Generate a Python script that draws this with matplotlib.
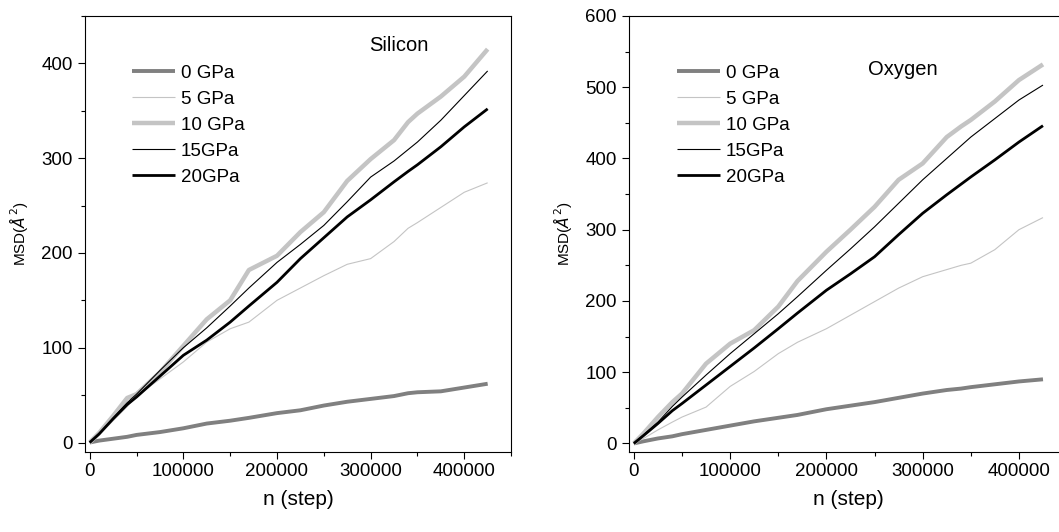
import numpy as np
import matplotlib
matplotlib.use('Agg')
import matplotlib.pyplot as plt
from matplotlib.ticker import MultipleLocator

plt.rcParams['font.family'] = ['Liberation Sans', 'DejaVu Sans']

steps = [0, 10000, 25000, 40000, 50000, 75000, 100000, 125000, 150000, 170000,
         200000, 225000, 250000, 275000, 300000, 325000, 340000, 350000, 375000, 400000, 425000]

# Silicon MSD (A^2)
si_0 = [0, 2, 4, 6, 8, 11, 15, 20, 23, 26, 31, 34, 39, 43, 46, 49, 52, 53, 54, 58, 62]
si_5 = [0, 8, 23, 38, 49, 67, 85, 106, 120, 127, 150, 163, 176, 188, 194, 212, 226, 232, 248, 264, 274]
si_10 = [0, 10, 28, 47, 51, 74, 102, 130, 150, 182, 197, 222, 243, 276, 299, 319, 338, 347, 365, 386, 415]
si_15 = [0, 9, 26, 42, 51, 76, 100, 121, 144, 163, 190, 209, 229, 254, 280, 297, 309, 317, 340, 366, 392]
si_20 = [0, 9, 25, 40, 48, 70, 92, 108, 127, 144, 169, 194, 216, 238, 256, 275, 286, 293, 312, 333, 352]

# Oxygen MSD (A^2)
o_0 = [0, 3, 7, 10, 13, 19, 25, 31, 36, 40, 48, 53, 58, 64, 70, 75, 77, 79, 83, 87, 90]
o_5 = [0, 7, 19, 30, 37, 51, 80, 101, 126, 142, 161, 180, 199, 218, 234, 244, 250, 253, 272, 300, 317]
o_10 = [0, 14, 37, 58, 70, 112, 140, 159, 192, 228, 269, 300, 332, 370, 393, 430, 445, 454, 480, 510, 532]
o_15 = [0, 12, 30, 52, 65, 96, 126, 154, 182, 206, 243, 273, 304, 337, 370, 400, 418, 430, 456, 482, 503]
o_20 = [0, 11, 28, 46, 56, 82, 108, 134, 161, 183, 215, 238, 262, 293, 323, 349, 364, 374, 398, 423, 446]

labels = ['0 GPa', '5 GPa', '10 GPa', '15GPa', '20GPa']
colors = ['#808080', '#c4c4c4', '#c4c4c4', '#000000', '#000000']
widths = [2.8, 0.8, 3.2, 0.8, 2.0]

fig = plt.figure(figsize=(10.59, 5.32), dpi=100)
ax1 = fig.add_axes([0.0803, 0.1504, 0.4023, 0.8196])
ax2 = fig.add_axes([0.5940, 0.1504, 0.4136, 0.8196])

panels = [
    (ax1, [si_0, si_5, si_10, si_15, si_20], (-10, 450), 'Silicon', (330000, 419)),
    (ax2, [o_0, o_5, o_10, o_15, o_20], (-12, 600), 'Oxygen', (279500, 525)),
]

for ax, series, ylim, name, pos in panels:
    for ys, lab, c, lw in zip(series, labels, colors, widths):
        ax.plot(steps, ys, color=c, lw=lw, label=lab, solid_capstyle='butt')
    ax.set_xlim(-5000, 450000)
    ax.set_ylim(*ylim)
    ax.xaxis.set_major_locator(MultipleLocator(100000))
    ax.xaxis.set_minor_locator(MultipleLocator(50000))
    ax.yaxis.set_major_locator(MultipleLocator(100))
    ax.yaxis.set_minor_locator(MultipleLocator(50))
    ax.tick_params(which='major', direction='out', length=5, width=0.8,
                   labelsize=13.5, top=False, right=False)
    ax.tick_params(axis='x', which='major', pad=3)
    ax.tick_params(axis='y', which='major', pad=4)
    ax.tick_params(which='minor', direction='out', length=3, width=0.8,
                   top=False, right=False)
    for sp in ax.spines.values():
        sp.set_linewidth(0.8)
    ax.set_xlabel('n (step)', fontsize=15, labelpad=7)
    ax.set_ylabel(r'MSD($\AA^2$)', fontsize=11, labelpad=8)
    ax.text(pos[0], pos[1], name, fontsize=14.5, ha='center', va='center')
    ax.legend(loc='upper left', bbox_to_anchor=(0.11, 0.888), frameon=False,
              fontsize=13.5, handlelength=2.3, handletextpad=0.3,
              labelspacing=0.47, borderpad=0, borderaxespad=0)

fig.savefig('out.png', dpi=100)
